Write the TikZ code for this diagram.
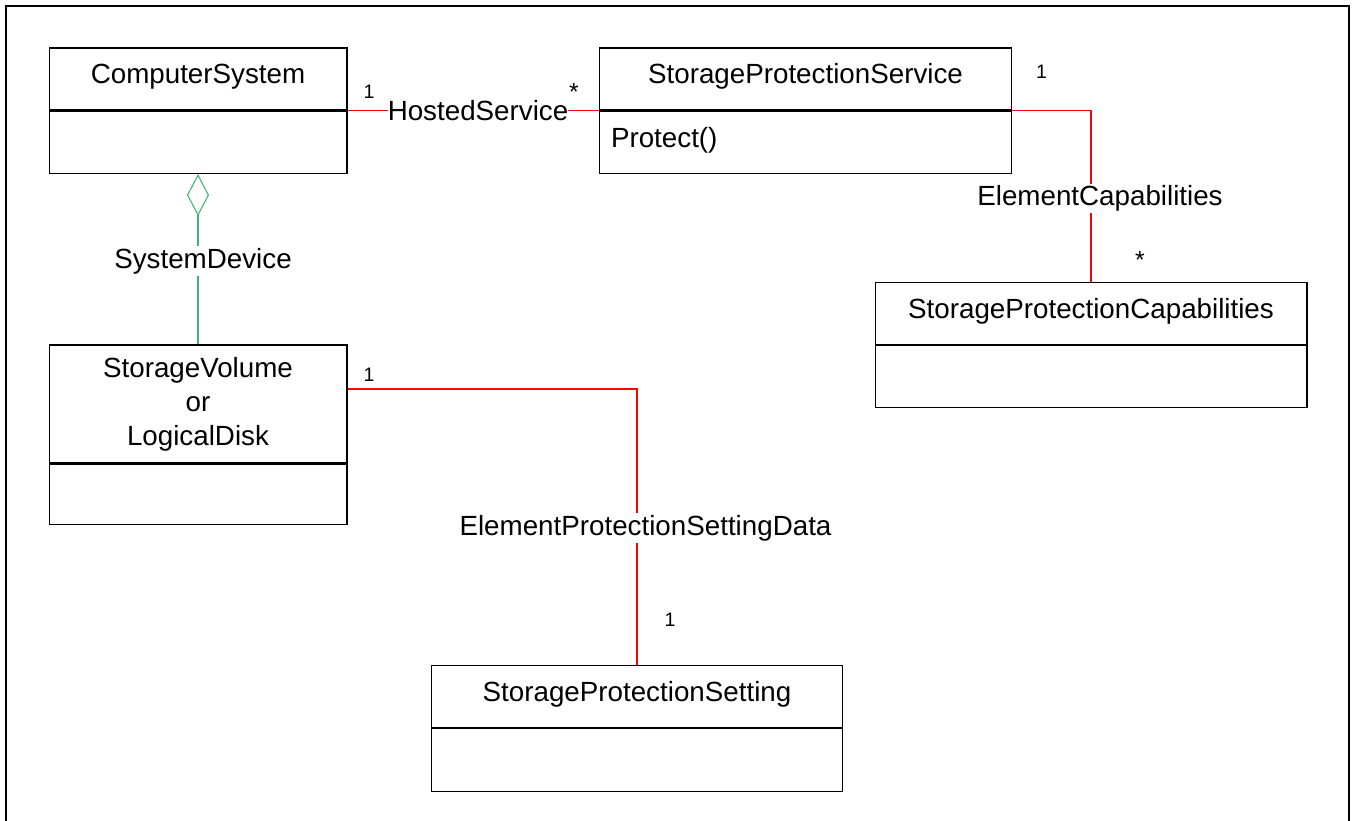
\documentclass[tikz,border=0pt]{standalone}
\usepackage{fontspec}
\setmainfont{Liberation Sans}
\usetikzlibrary{arrows.meta,positioning}

\definecolor{assocred}{RGB}{255,0,0}
\definecolor{aggrgreen}{RGB}{60,179,113}

\begin{document}
\begin{tikzpicture}[
  x=0.02cm, y=0.02cm,
  node distance=0pt,
  cls/.style={draw, line width=0.6pt, inner sep=0pt, font=\fontsize{15.8}{19.35}\selectfont},
  clshead/.style={cls, text height=0.71cm, text depth=0.53cm},
  clsbody/.style={cls, minimum height=1.25cm},
  role/.style={fill=white, inner xsep=0pt, inner ysep=1pt, font=\fontsize{15.8}{19.35}\selectfont},
  mult/.style={anchor=base, inner sep=0pt, font=\fontsize{11.1}{13}\selectfont},
  star/.style={mult, font=\fontsize{14}{16}\selectfont},
  assoc/.style={draw=assocred, color=assocred, line width=0.6pt},
  aggr/.style={draw=aggrgreen, line width=0.6pt, {Diamond[open, length=0.84cm, width=0.44cm]}-}
]
\useasboundingbox (0,0) rectangle (1352,-821);
\clip (0,0) rectangle (1352,-821);
\draw[line width=1.15pt] (5.7,-5.7) rectangle (1349.3,-850);

\node[clshead, minimum width=5.96cm] (cs) at (198,-79) {ComputerSystem};
\node[clsbody, minimum width=5.96cm, below=of cs] (csbody) {};

\node[clshead, minimum width=8.26cm] (sps) at (805.5,-79) {StorageProtectionService};
\node[clsbody, minimum width=8.26cm, below=of sps, text width=7.78cm, inner xsep=0.24cm, align=left, text height=0.72cm, text depth=0.53cm] (spsbody) {Protect()};

\node[cls, minimum width=5.96cm, minimum height=2.36cm, align=center] (sv) at (198,-404) {StorageVolume\\or\\LogicalDisk};
\node[clsbody, minimum width=5.96cm, minimum height=1.2cm, below=of sv] (svbody) {};

\node[clshead, minimum width=8.64cm] (spc) at (1091,-313.5) {StorageProtectionCapabilities};
\node[clsbody, minimum width=8.64cm, minimum height=1.24cm, below=of spc] (spcbody) {};

\node[clshead, minimum width=8.24cm] (spset) at (637,-696.5) {StorageProtectionSetting};
\node[clsbody, minimum width=8.24cm, below=of spset] (spsetbody) {};

\draw[assoc] (cs.south east) -- node[role, pos=0.52, text=black] (hosted) {HostedService} (sps.south west);
\draw[aggr] (csbody.south) -- node[role, pos=0.51, xshift=0.1cm] (sysdev) {SystemDevice} (sv.north);
\draw[assoc] (sps.south east) -| node[role, pos=0.756, xshift=0.18cm, text=black] (elemcap) {ElementCapabilities} (spc.north);
\draw[assoc] ([yshift=-0.89cm]sv.north east) -| node[role, pos=0.752, xshift=0.17cm, text=black] (elemset) {ElementProtectionSettingData} (spset.north);

\node[mult] (m-cs) at (369,-99) {1};
\node[star] (m-sps) at (574,-101) {*};
\node[mult] (m-spsr) at (1041.5,-79) {1};
\node[star] (m-spc) at (1140,-268) {*};
\node[mult] (m-sv) at (369,-381) {1};
\node[mult] (m-spset) at (670,-626) {1};
\end{tikzpicture}
\end{document}
